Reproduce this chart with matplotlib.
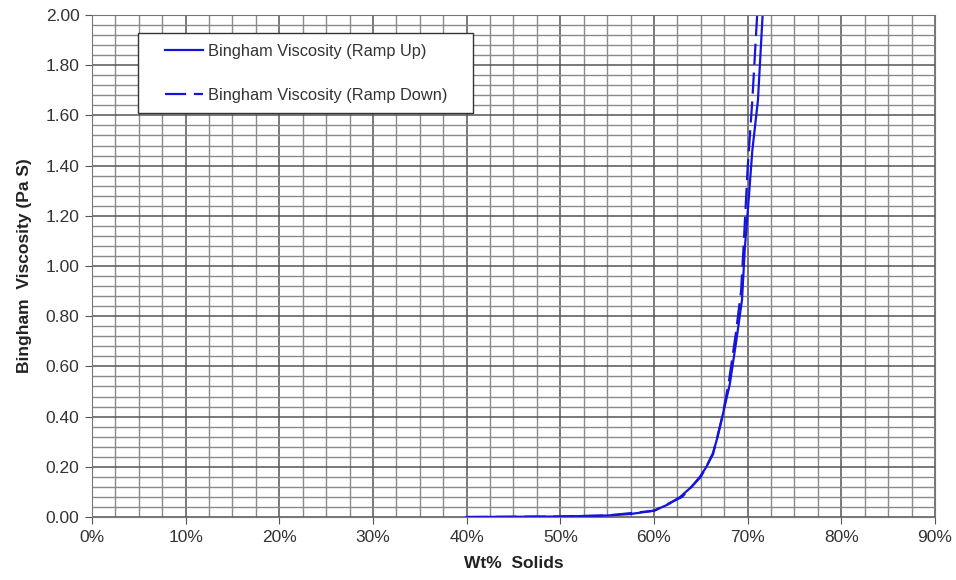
import numpy as np
import matplotlib.pyplot as plt
from matplotlib.patches import Rectangle
from matplotlib.ticker import MultipleLocator, FuncFormatter

plt.rcParams['font.family'] = ['Liberation Sans', 'DejaVu Sans']

# Bingham viscosity (Pa S) vs Wt% solids
up_x = [40, 45, 50, 55, 57.5, 60, 61.5, 62.8, 64, 64.9, 65.6, 66.3, 66.8, 67.3,
        68.1, 68.8, 69.4, 69.7, 70.1, 70.5, 71.1, 71.6, 71.8]
up_y = [0, 0.001, 0.002, 0.006, 0.012, 0.025, 0.05, 0.08, 0.12, 0.16, 0.2, 0.255,
        0.32, 0.40, 0.53, 0.705, 0.865, 1.07, 1.26, 1.46, 1.66, 2.0, 2.1]

down_x = [40, 50, 55, 60, 63, 65, 66.3, 67.3, 68, 68.7, 69.3, 69.6, 70.0, 70.5, 71.0, 71.2]
down_y = [0, 0.002, 0.006, 0.025, 0.08, 0.16, 0.25, 0.40, 0.54, 0.72, 0.9, 1.1, 1.39,
          1.66, 1.99, 2.1]

blue = '#1414dc'
W, H = 956, 580

fig = plt.figure(figsize=(9.56, 5.8), dpi=100)
ax = fig.add_axes([0.0962, 0.1086, 0.8818, 0.8655])

ax.plot(up_x, up_y, '-', color=blue, lw=1.6, label='Bingham Viscosity (Ramp Up)')
ax.plot(down_x, down_y, '--', color=blue, lw=1.6, dashes=(9.5, 3.5),
        label='Bingham Viscosity (Ramp Down)')

ax.set_xlim(0, 90)
ax.set_ylim(0, 2.0)
ax.xaxis.set_major_locator(MultipleLocator(10))
ax.xaxis.set_minor_locator(MultipleLocator(2.5))
ax.yaxis.set_major_locator(MultipleLocator(0.2))
ax.yaxis.set_minor_locator(MultipleLocator(0.04))
ax.xaxis.set_major_formatter(FuncFormatter(lambda v, p: '%d%%' % round(v)))
ax.yaxis.set_major_formatter(FuncFormatter(lambda v, p: '%.2f' % v))

ax.grid(which='major', color='#555555', lw=1.1)
ax.grid(which='minor', color='#8a8a8a', lw=1.0)
ax.set_axisbelow(True)
ax.tick_params(which='major', length=5, color='#555555', labelsize=12.5,
               labelcolor='#333333', pad=4)
ax.tick_params(which='minor', length=0)
for s in ax.spines.values():
    s.set_color('#777777')

ax.set_xlabel('Wt%  Solids', fontsize=12.5, fontweight='bold', color='#222222', labelpad=8)
ax.set_ylabel('Bingham  Viscosity (Pa S)', fontsize=12.5, fontweight='bold',
              color='#222222', labelpad=10)

# legend box drawn separately, legend itself without frame
box = Rectangle((138 / W, 1 - 113 / H), (473 - 138) / W, 80 / H, transform=fig.transFigure,
                facecolor='white', edgecolor='#333333', lw=1.0, zorder=5, clip_on=False)
ax.add_patch(box)
leg = ax.legend(loc='upper left', bbox_to_anchor=(165 / W, 1 - 44 / H),
                bbox_transform=fig.transFigure, fontsize=11.8, frameon=False,
                labelspacing=1.75, handlelength=2.3, handletextpad=0.3,
                borderpad=0, borderaxespad=0)
leg.set_zorder(6)
for t in leg.get_texts():
    t.set_color('#333333')

fig.savefig('out.png', dpi=100)
